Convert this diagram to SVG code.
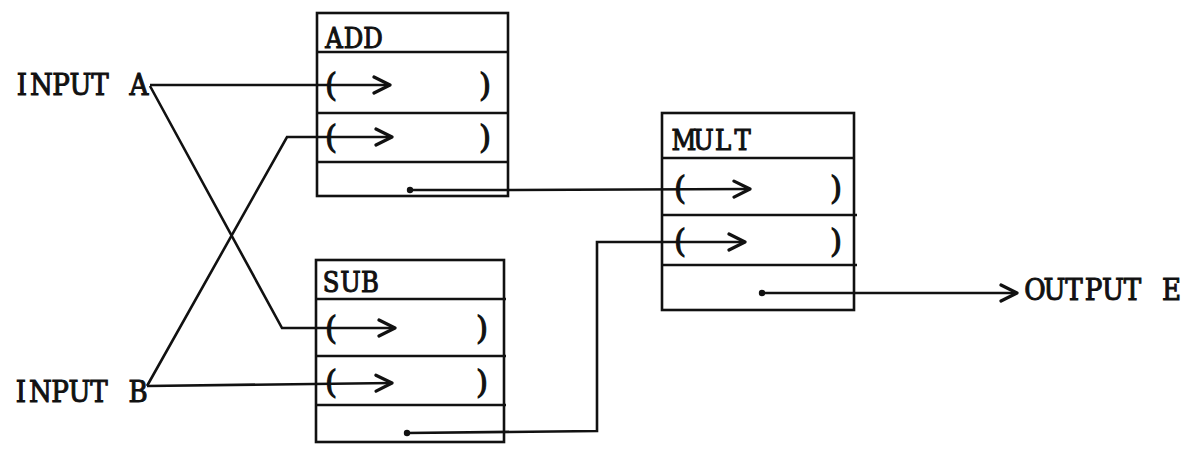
<svg xmlns="http://www.w3.org/2000/svg" width="1183" height="451" viewBox="0 0 1183 451">
  <style>
    .box { fill: none; stroke: #111; stroke-width: 2.6; }
    .sep { stroke: #111; stroke-width: 2.6; }
    .tw { font-family: "DejaVu Serif Condensed", "DejaVu Serif", "Liberation Serif", serif; font-stretch: condensed; fill: #111; stroke: #111; stroke-width: 1; text-anchor: middle; }
    .lbl { font-size: 27px; }
    .io { font-size: 29px; }
    .par { font-family: "DejaVu Serif", "Liberation Serif", serif; font-size: 31px; fill: #111; stroke: #111; stroke-width: 1.1; }
    .wire { fill: none; stroke: #111; stroke-width: 2.6; stroke-linejoin: miter; }
    .dot { fill: #111; }
  </style>
  <defs>
    <marker id="chevron" viewBox="0 0 20 20" refX="18" refY="10" markerWidth="20" markerHeight="20" markerUnits="userSpaceOnUse" orient="auto">
      <path d="M2,2 L18,10 L2,18" fill="none" stroke="#111" stroke-width="3.2" stroke-linecap="round" stroke-linejoin="round"/>
    </marker>
  </defs>
  <rect width="1183" height="451" fill="#fff"/>

  <!-- ADD operator block -->
  <g id="add">
    <rect class="box" x="317" y="13" width="191" height="183"/>
    <line class="sep" x1="317" y1="52" x2="508" y2="52"/>
    <line class="sep" x1="317" y1="113" x2="508" y2="113"/>
    <line class="sep" x1="317" y1="162" x2="508" y2="162"/>
    <text class="tw lbl" x="334 353.5 373" y="48">ADD</text>
    <text class="par" x="325" y="96">(</text>
    <text class="par" x="479" y="96">)</text>
    <text class="par" x="325" y="148">(</text>
    <text class="par" x="479" y="148">)</text>
  </g>

  <!-- SUB operator block -->
  <g id="sub">
    <rect class="box" x="316" y="260" width="188" height="182"/>
    <line class="sep" x1="316" y1="299" x2="506" y2="299"/>
    <line class="sep" x1="316" y1="356" x2="506" y2="356"/>
    <line class="sep" x1="316" y1="405" x2="506" y2="405"/>
    <text class="tw lbl" x="331 350.5 370" y="292">SUB</text>
    <text class="par" x="325" y="339">(</text>
    <text class="par" x="476" y="339">)</text>
    <text class="par" x="325" y="393">(</text>
    <text class="par" x="476" y="393">)</text>
  </g>

  <!-- MULT operator block -->
  <g id="mult">
    <rect class="box" x="662" y="113" width="192" height="197"/>
    <line class="sep" x1="662" y1="158" x2="854" y2="158"/>
    <line class="sep" x1="662" y1="215" x2="857" y2="215"/>
    <line class="sep" x1="662" y1="265" x2="857" y2="265"/>
    <text class="tw lbl" x="684 703.5 723 742.5" y="150">MULT</text>
    <text class="par" x="674" y="199">(</text>
    <text class="par" x="830" y="199">)</text>
    <text class="par" x="674" y="252">(</text>
    <text class="par" x="830" y="252">)</text>
  </g>

  <!-- terminals -->
  <g id="input-a">
    <text class="tw io" x="22 41.5 61 80.5 100 119.5 139" y="95">INPUT A</text>
  </g>
  <g id="input-b">
    <text class="tw io" x="21 40.5 60 79.5 99 118.5 138" y="402">INPUT B</text>
  </g>
  <g id="output-e">
    <text class="tw io" x="1035 1054.5 1074 1093.5 1113 1132.5 1152 1171.5" y="300">OUTPUT E</text>
  </g>

  <!-- connectors -->
  <g id="connectors">
    <path class="wire" d="M150,85 L390,85" marker-end="url(#chevron)"/>
    <path class="wire" d="M150,86 L282,328 L395,328" marker-end="url(#chevron)"/>
    <path class="wire" d="M147,386 L287,137 L392,137" marker-end="url(#chevron)"/>
    <path class="wire" d="M147,386 L392,383" marker-end="url(#chevron)"/>
    <path class="wire" d="M410,190 L513,190 L750,189" marker-end="url(#chevron)"/>
    <circle class="dot" cx="410" cy="190" r="3.2"/>
    <path class="wire" d="M407,433 L597,431 L597,242 L745,242" marker-end="url(#chevron)"/>
    <circle class="dot" cx="407" cy="433" r="3.2"/>
    <path class="wire" d="M762,293 L1017,293" marker-end="url(#chevron)"/>
    <circle class="dot" cx="762" cy="293" r="3.2"/>
  </g>
</svg>
